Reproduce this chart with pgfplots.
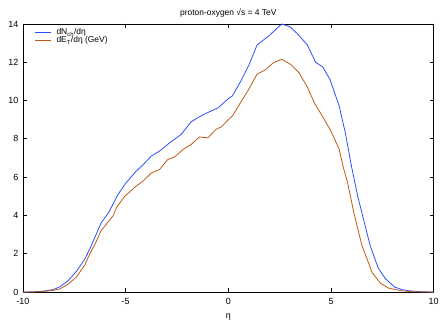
\documentclass[border=0pt]{standalone}
\usepackage{pgfplots}
\pgfplotsset{compat=1.18}
\usepackage{fontspec}
\setmainfont{Liberation Sans}
\definecolor{cblue}{RGB}{40,80,255}
\definecolor{corange}{RGB}{190,90,20}
\begin{document}
\begin{tikzpicture}
\begin{axis}[
  scale only axis, width=412bp, height=269bp,
  xmin=-10, xmax=10, ymin=0, ymax=14,
  xtick={-10,-5,0,5,10}, ytick={0,2,4,6,8,10,12,14},
  tick align=inside, major tick length=4bp,
  tick style={black, line width=0.8pt},
  axis line style={line width=0.8pt},
  /pgf/number format/assume math mode=true,
  tick label style={font=\fontsize{9}{10}\selectfont},
  xticklabel style={yshift=-3bp},
  yticklabel style={xshift=-1bp},
  xlabel={η}, xlabel style={font=\fontsize{9}{10}\selectfont, yshift=-2bp},
  title={proton-oxygen √s = 4 TeV},
  title style={font=\fontsize{8.5}{10}\selectfont, yshift=-3bp},
  legend style={at={(0.025,0.995)}, anchor=north west, draw=none, fill=none,
    font=\fontsize{8.5}{8}\selectfont, row sep=-3.5pt, inner sep=1pt,
    nodes={inner xsep=5pt}},
  legend cell align=left,
  legend image code/.code={\draw[#1] (0cm,0cm) -- (0.58cm,0cm);},
]
\addplot[cblue, line width=0.8pt] coordinates {
(-10,0) (-9.5,0.02) (-9,0.05) (-8.5,0.14) (-8.2,0.28) (-7.8,0.6) (-7.4,1.08)
(-7.0,1.7) (-6.75,2.24) (-6.4,3.1) (-6.2,3.6) (-5.8,4.2) (-5.4,5.05) (-5.0,5.68)
(-4.5,6.3) (-4.15,6.65) (-3.75,7.1) (-3.35,7.36) (-2.85,7.8) (-2.3,8.23)
(-1.8,8.9) (-1.25,9.25) (-0.5,9.62) (0,10.1) (0.2,10.25) (0.6,11.0) (1.0,11.85)
(1.4,12.9) (2.0,13.4) (2.6,14.0) (3.0,13.85) (3.35,13.5) (3.85,12.9) (4.25,12.0)
(4.6,11.75) (4.95,11.1) (5.4,9.7) (5.7,8.3) (6.0,6.55) (6.3,5.0) (6.5,4.15)
(6.9,2.45) (7.3,1.25) (7.65,0.7) (8.1,0.26) (8.5,0.12) (8.8,0.07) (9.3,0.03) (10,0)
};
\addlegendentry{dN\textsubscript{ch}/dη}
\addplot[corange, line width=0.8pt] coordinates {
(-10,0) (-9.5,0.01) (-9,0.03) (-8.5,0.1) (-8.2,0.17) (-7.8,0.42) (-7.4,0.78)
(-7.0,1.4) (-6.75,1.98) (-6.45,2.6) (-6.2,3.2) (-5.6,4.0) (-5.45,4.4) (-5.05,5.0)
(-4.5,5.52) (-4.15,5.8) (-3.75,6.22) (-3.35,6.4) (-2.95,6.92) (-2.6,7.07)
(-2.2,7.45) (-1.8,7.72) (-1.4,8.1) (-1.0,8.05) (-0.6,8.5) (-0.35,8.62) (0,9.0)
(0.2,9.2) (0.6,9.9) (1.0,10.6) (1.4,11.38) (1.8,11.6) (2.2,11.98) (2.6,12.15)
(3.05,11.88) (3.45,11.44) (3.85,10.7) (4.2,9.85) (4.6,9.15) (5.0,8.4) (5.4,7.45)
(5.6,6.5) (5.8,5.75) (6.1,4.2) (6.5,2.45) (7.0,1.03) (7.4,0.47) (7.8,0.21)
(8.45,0.07) (9.0,0.02) (10,0)
};
\addlegendentry{dE\textsubscript{T}/dη (GeV)}
\end{axis}
\path[use as bounding box] ([xshift=-23bp,yshift=-29bp]current axis.south west) rectangle ([xshift=7bp,yshift=24bp]current axis.north east);
\end{tikzpicture}
\end{document}
